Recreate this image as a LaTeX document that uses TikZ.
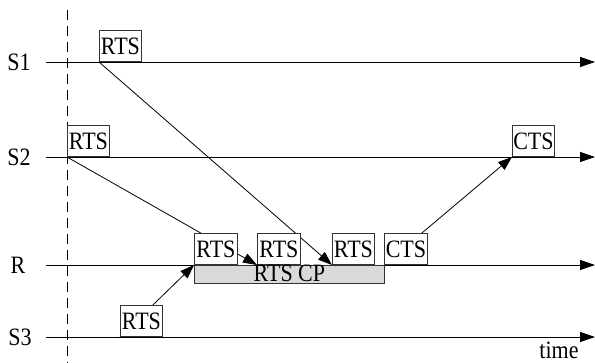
\documentclass[tikz,border=0pt]{standalone}
\usepackage{fontspec}
\setmainfont{Liberation Serif}[FakeStretch=0.88]
\usetikzlibrary{arrows.meta,backgrounds}
\tikzset{
	msg/.style={draw=black!80,fill=white,line width=0.9pt,anchor=south west,minimum width=42pt,minimum height=31pt,inner sep=0pt},
	axis/.style={line width=0.9pt,-{Triangle[length=15pt,width=10pt]}},
	send/.style={line width=0.8pt,-{Triangle[length=14pt,width=10pt]}},
}
\begin{document}
\begin{tikzpicture}[x=1pt,y=-1pt,font=\fontsize{25}{30}\selectfont]
	\useasboundingbox (0,0) rectangle (595,363);
	% stations
	\node (s1) at (19,62) {S1};
	\node (s2) at (19,157) {S2};
	\node (r) at (18,265) {R};
	\node (s3) at (20,337) {S3};
	\node (time) at (559,350) {time};
	\coordinate (s1a) at (46,62); \coordinate (s1b) at (595,62);
	\coordinate (s2a) at (46,157); \coordinate (s2b) at (595,157);
	\coordinate (ra) at (46,265); \coordinate (rb) at (595,265);
	\coordinate (s3a) at (46,337); \coordinate (s3b) at (595,337);
	\coordinate (top) at (67,10); \coordinate (bot) at (67,363);
	% frames
	\node[msg] (s1rts) at (99,62) {RTS};
	\node[msg] (s2rts) at (67,157) {RTS};
	\node[msg] (s3rts) at (120,337) {RTS};
	\node[msg,minimum width=43pt] (rrtsa) at (194,265) {RTS};
	\node[msg,minimum width=43pt] (rrtsb) at (257,265) {RTS};
	\node[msg] (rrtsc) at (332,265) {RTS};
	\node[msg,minimum width=43pt] (rcts) at (384,265) {CTS};
	\node[msg] (s2cts) at (512,157) {CTS};
	\node[draw=black!80,fill=black!15,line width=0.9pt,anchor=north west,minimum width=190pt,minimum height=18pt,inner sep=0pt,text height=15pt,text depth=1pt] (cp) at (194,265) {RTS CP};
	\begin{pgfonlayer}{background}
		\draw[dashed,dash pattern=on 10pt off 6pt,line width=0.8pt] (top) -- (bot);
		\draw[axis] (s1a) -- (s1b);
		\draw[axis] (s2a) -- (s2b);
		\draw[axis] (ra) -- (rb);
		\draw[axis] (s3a) -- (s3b);
		\draw[send] (s1rts.south west) -- (rrtsc.south west);
		\draw[send] (s2rts.south west) -- (rrtsb.south west);
		\draw[send] (s3rts.south west) -- (rrtsa.south west);
		\draw[send] (rcts.south west) -- (s2cts.south west);
	\end{pgfonlayer}
\end{tikzpicture}
\end{document}
